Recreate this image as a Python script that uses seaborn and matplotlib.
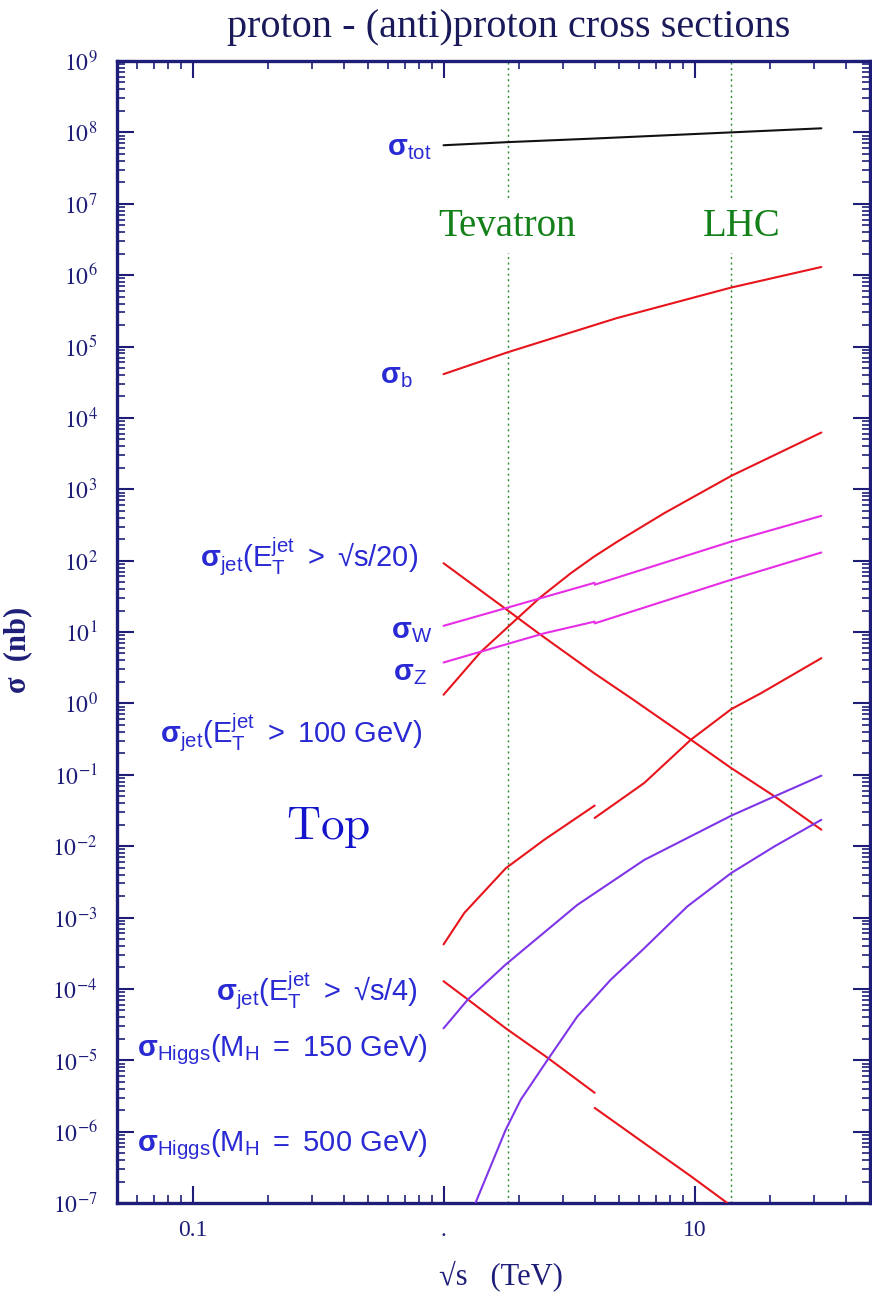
import numpy as np
import pandas as pd
import matplotlib
matplotlib.use("Agg")
import matplotlib.pyplot as plt
import seaborn as sns
from matplotlib.ticker import LogLocator, FixedLocator, FixedFormatter, FuncFormatter, NullFormatter

# ---------------- data (sqrt(s) in TeV, sigma in nb) ----------------
tot_x = [1.0, 1.8, 4.0, 14.0, 32.0]
tot_y = [6.6e7, 7.3e7, 8.2e7, 1.0e8, 1.14e8]

b_x = [1.0, 1.8, 4.9, 14.0, 32.0]
b_y = [4.1e4, 8.3e4, 2.5e5, 6.7e5, 1.3e6]

jet100_x = [1.0, 1.41, 1.97, 2.44, 3.22, 3.98, 4.93, 7.57, 14.0, 32.0]
jet100_y = [1.32, 5.3, 15.6, 31, 67, 114, 185, 462, 1540, 6230]

jet20_x = [1.0, 1.77, 2.44, 3.98, 5.57, 9.67, 14.0, 20.8, 32.0]
jet20_y = [92, 21, 9.1, 2.65, 1.19, 0.31, 0.124, 0.05, 0.017]

W_ppbar_x = [1.0, 1.77, 4.0]
W_ppbar_y = [12.2, 21.6, 49]
W_pp_x = [4.0, 14.0, 32.0]
W_pp_y = [46, 185, 424]

Z_ppbar_x = [1.0, 2.52, 4.0]
Z_ppbar_y = [3.74, 9.6, 14]
Z_pp_x = [4.0, 14.0, 32.0]
Z_pp_y = [13.2, 54, 130]

top_ppbar_x = [1.0, 1.21, 1.77, 2.52, 4.0]
top_ppbar_y = [4.2e-4, 1.16e-3, 4.9e-3, 0.0123, 0.037]
top_pp_x = [4.0, 6.3, 9.67, 14.0, 18.4, 32.0]
top_pp_y = [0.0248, 0.0766, 0.31, 0.83, 1.39, 4.3]

h150_x = [1.0, 1.25, 1.77, 3.41, 6.3, 14.0, 20.8, 32.0]
h150_y = [2.8e-5, 7.1e-5, 2.2e-4, 1.5e-3, 6.4e-3, 0.0267, 0.0497, 0.097]

h500_x = [1.34, 1.77, 2.03, 2.6, 3.41, 4.64, 6.3, 9.36, 14.0, 20.8, 32.0]
h500_y = [1e-7, 1.07e-6, 2.8e-6, 1.02e-5, 4.1e-5, 1.35e-4, 3.7e-4, 1.43e-3, 4.2e-3, 9.9e-3, 0.0234]

jet4_ppbar_x = [1.0, 1.25, 1.77, 2.6, 4.0]
jet4_ppbar_y = [1.28e-4, 7.1e-5, 2.8e-5, 1.08e-5, 3.5e-6]
jet4_pp_x = [4.0, 6.3, 9.67, 13.5]
jet4_pp_y = [2.15e-6, 6.9e-7, 2.37e-7, 1.0e-7]

collider_x = [1.8, 14.0]
collider_names = ["Tevatron", "LHC"]

x_tick_vals = [0.1, 1, 10]
x_tick_labels = ["0.1", ".", "10"]

segments = [
    ("tot", "tot", tot_x, tot_y),
    ("b", "qcd", b_x, b_y),
    ("jet100", "qcd", jet100_x, jet100_y),
    ("jet20", "qcd", jet20_x, jet20_y),
    ("W_ppbar", "ew", W_ppbar_x, W_ppbar_y),
    ("W_pp", "ew", W_pp_x, W_pp_y),
    ("Z_ppbar", "ew", Z_ppbar_x, Z_ppbar_y),
    ("Z_pp", "ew", Z_pp_x, Z_pp_y),
    ("top_ppbar", "qcd", top_ppbar_x, top_ppbar_y),
    ("top_pp", "qcd", top_pp_x, top_pp_y),
    ("h150", "higgs", h150_x, h150_y),
    ("h500", "higgs", h500_x, h500_y),
    ("jet4_ppbar", "qcd", jet4_ppbar_x, jet4_ppbar_y),
    ("jet4_pp", "qcd", jet4_pp_x, jet4_pp_y),
]
rows = []
for seg, kind, xs, ys in segments:
    for xv, yv in zip(xs, ys):
        rows.append({"x": xv, "y": yv, "seg": seg, "kind": kind})
df = pd.DataFrame(rows)

palette = {"tot": "#111111", "qcd": "#e8141c", "ew": "#e62ee6", "higgs": "#7f35e8"}

# ---------------- styling ----------------
sns.set_theme(style="ticks")
navy = "#1e1e78"
blue = "#2a2ad4"
plt.rcParams["font.family"] = ["Liberation Serif", "DejaVu Serif"]
plt.rcParams["mathtext.fontset"] = "stix"
plt.rcParams["mathtext.rm"] = "Liberation Sans"
plt.rcParams["mathtext.it"] = "Liberation Sans:italic"
plt.rcParams["mathtext.bf"] = "Liberation Sans:bold"

W, H = 872, 1293
fig = plt.figure(figsize=(W / 100, H / 100), dpi=100)
fig.patch.set_facecolor("white")
ax = fig.add_axes([117 / W, 1 - 1203 / H, 753 / W, 1142 / H])
ax.set_xscale("log")
ax.set_yscale("log")
ax.set_xlim(0.05, 50)
ax.set_ylim(1e-7, 1e9)

sns.lineplot(data=df, x="x", y="y", hue="kind", units="seg", estimator=None,
             sort=False, palette=palette, legend=False, linewidth=1.5, ax=ax, zorder=3)

for cx in collider_x:
    ax.axvline(cx, color="#2e8b2e", lw=1.0, ls=(0, (1.5, 2.5)), zorder=1)

ax.xaxis.set_major_locator(FixedLocator(x_tick_vals))
ax.xaxis.set_major_formatter(FixedFormatter(x_tick_labels))
ax.xaxis.set_minor_locator(LogLocator(base=10, subs=np.arange(2, 10), numticks=50))
ax.xaxis.set_minor_formatter(NullFormatter())
ax.yaxis.set_major_locator(LogLocator(base=10, numticks=30))
ax.yaxis.set_major_formatter(FuncFormatter(lambda v, p: r"$\mathrm{10^{%d}}$" % round(np.log10(v))))
ax.yaxis.set_minor_locator(LogLocator(base=10, subs=np.arange(2, 10), numticks=300))
ax.yaxis.set_minor_formatter(NullFormatter())

ax.tick_params(which="major", direction="in", length=12, width=1.5, color=navy,
               top=True, right=True, labelcolor=navy, labelsize=17)
ax.tick_params(which="minor", direction="in", length=5.5, width=1.2, color=navy,
               top=True, right=True)
ax.tick_params(axis="y", which="major", pad=14)
ax.tick_params(axis="x", which="major", pad=12)
for s in ax.spines.values():
    s.set_color(navy)
    s.set_linewidth(2.4)

ax.set_xlabel(r"√s   (TeV)", fontsize=22, color=navy)
ax.xaxis.set_label_coords((501 - 117) / 753, (1203 - 1260) / 1142)
ax.set_ylabel("σ  (nb)", fontsize=22, fontweight="bold", color=navy)
ax.yaxis.set_label_coords((32 - 117) / 753, (1203 - 650) / 1142)

fig.text(509 / W, 1 - 28 / H, "proton - (anti)proton cross sections", fontsize=29,
         color="#1a1a5a", ha="center", va="center")

# collider labels
for name, px in zip(collider_names, [507, 742]):
    fig.text(px / W, 1 - 226 / H, name, fontsize=28, color="#14801a", ha="center", va="center",
             bbox=dict(facecolor="white", edgecolor="none", pad=6), zorder=5)

# curve labels (right edge px, centre px)
labels = [
    (r"$\mathbf{\sigma}_{\mathrm{tot}}$", 432, 149),
    (r"$\mathbf{\sigma}_{\mathrm{b}}$", 413, 377),
    (r"$\mathbf{\sigma}_{\mathrm{jet}}\mathrm{(E_{T}^{jet}\ >\ √s/20)}$", 418, 556),
    (r"$\mathbf{\sigma}_{\mathrm{W}}$", 432, 632),
    (r"$\mathbf{\sigma}_{\mathrm{Z}}$", 427, 674),
    (r"$\mathbf{\sigma}_{\mathrm{jet}}\mathrm{(E_{T}^{jet}\ >\ 100\ GeV)}$", 422, 732),
    (r"$\mathbf{\sigma}_{\mathrm{jet}}\mathrm{(E_{T}^{jet}\ >\ √s/4)}$", 418, 990),
    (r"$\mathbf{\sigma}_{\mathrm{Higgs}}\mathrm{(M_{H}\ =\ 150\ GeV)}$", 428, 1050),
    (r"$\mathbf{\sigma}_{\mathrm{Higgs}}\mathrm{(M_{H}\ =\ 500\ GeV)}$", 428, 1145),
]
for txt, px, py in labels:
    fig.text(px / W, 1 - py / H, txt, fontsize=21, color=blue, ha="right", va="center",
             math_fontfamily="custom")

fig.text(328 / W, 1 - 828 / H, r"$\mathrm{Top}$", fontsize=34, color="#1414cc",
         ha="center", va="center", math_fontfamily="cm")

fig.savefig("out.png", dpi=100, facecolor="white")
